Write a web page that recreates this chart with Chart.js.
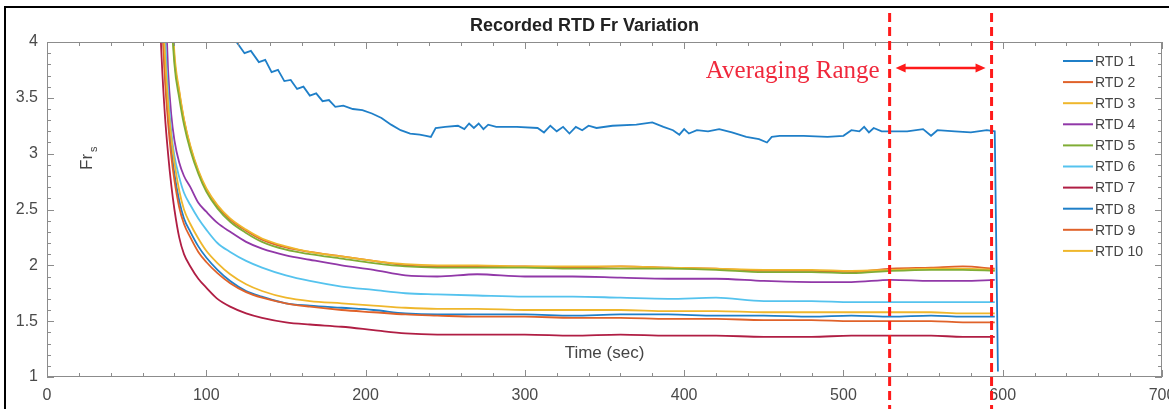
<!DOCTYPE html>
<html>
<head>
<meta charset="utf-8">
<script src="https://cdn.jsdelivr.net/npm/chart.js@4"></script>
<style>
  html, body { margin: 0; padding: 0; background: #fff; }
  #chart-rtd { display: block; }
</style>
</head>
<body>
<canvas id="chart-rtd" width="1169" height="409"></canvas>
<script>
// time base (sec) shared by RTD 2..10
const timeS = [68, 70, 72, 74, 76, 78, 80, 83, 86, 90, 95, 100, 107, 115, 125, 135, 150, 165, 185, 205, 225, 245, 270, 300, 330, 360, 390, 420, 450, 480, 505, 530, 555, 575, 595]

const rtd2 = [12, 10, 8.5, 7, 5.6, 4.4, 3.85, 3.55, 3.3, 3.06, 2.84, 2.68, 2.53, 2.41, 2.31, 2.23, 2.16, 2.12, 2.08, 2.04, 2.0, 1.99, 1.99, 1.99, 1.98, 1.99, 1.98, 1.97, 1.95, 1.95, 1.94, 1.97, 1.98, 1.99, 1.97]
const rtd3 = [12.5, 10.4, 8.8, 7.2, 5.8, 4.5, 3.9, 3.57, 3.31, 3.07, 2.85, 2.69, 2.54, 2.42, 2.32, 2.24, 2.17, 2.12, 2.08, 2.04, 2.01, 2.0, 2.0, 1.99, 1.99, 1.99, 1.98, 1.97, 1.96, 1.96, 1.95, 1.96, 1.97, 1.97, 1.96]
const rtd4 = [9, 7, 5.6, 4.5, 3.75, 3.35, 3.12, 2.92, 2.8, 2.7, 2.56, 2.48, 2.38, 2.3, 2.21, 2.15, 2.09, 2.05, 2.0, 1.96, 1.91, 1.9, 1.92, 1.9, 1.9, 1.89, 1.88, 1.88, 1.86, 1.85, 1.85, 1.87, 1.86, 1.86, 1.87]
const rtd5 = [11.5, 9.6, 8.1, 6.7, 5.4, 4.3, 3.8, 3.5, 3.26, 3.03, 2.82, 2.66, 2.51, 2.39, 2.29, 2.21, 2.14, 2.1, 2.06, 2.02, 1.99, 1.98, 1.98, 1.98, 1.97, 1.97, 1.97, 1.96, 1.94, 1.94, 1.93, 1.95, 1.96, 1.96, 1.95]
const rtd6 = [8, 6.3, 5.0, 4.1, 3.55, 3.2, 2.98, 2.79, 2.65, 2.54, 2.42, 2.32, 2.2, 2.12, 2.04, 1.98, 1.91, 1.86, 1.81, 1.78, 1.75, 1.74, 1.73, 1.72, 1.72, 1.71, 1.7, 1.71, 1.68, 1.68, 1.67, 1.67, 1.67, 1.67, 1.67]
const rtd7 = [6.0, 4.6, 3.85, 3.35, 3.0, 2.72, 2.5, 2.25, 2.1, 1.99, 1.88, 1.8, 1.7, 1.63, 1.57, 1.53, 1.49, 1.47, 1.45, 1.42, 1.39, 1.38, 1.38, 1.38, 1.37, 1.38, 1.37, 1.37, 1.36, 1.36, 1.37, 1.37, 1.37, 1.36, 1.36]
const rtd8 = [7, 5.5, 4.4, 3.75, 3.35, 3.05, 2.82, 2.58, 2.42, 2.3, 2.17, 2.07, 1.96, 1.86, 1.77, 1.72, 1.66, 1.64, 1.62, 1.6, 1.57, 1.56, 1.56, 1.56, 1.55, 1.56, 1.56, 1.55, 1.55, 1.54, 1.55, 1.54, 1.55, 1.54, 1.54]
const rtd9 = [6.8, 5.3, 4.3, 3.68, 3.28, 2.98, 2.76, 2.52, 2.37, 2.25, 2.12, 2.03, 1.93, 1.84, 1.76, 1.71, 1.66, 1.63, 1.6, 1.58, 1.56, 1.55, 1.54, 1.54, 1.53, 1.53, 1.52, 1.52, 1.51, 1.51, 1.5, 1.5, 1.5, 1.49, 1.49]
const rtd10 = [7.5, 5.8, 4.6, 3.9, 3.45, 3.15, 2.92, 2.67, 2.5, 2.37, 2.24, 2.13, 2.02, 1.92, 1.83, 1.77, 1.71, 1.68, 1.66, 1.64, 1.62, 1.61, 1.61, 1.6, 1.6, 1.6, 1.59, 1.59, 1.58, 1.58, 1.58, 1.58, 1.58, 1.57, 1.57]

// RTD 1 is logged on its own, noisier time base
const rtd1Time = [112, 119, 124, 128, 133, 137, 141, 145, 149, 153, 157, 161, 165, 169, 173, 177, 181, 186, 192, 198, 204, 210, 216, 222, 228, 234, 238, 241, 244, 250, 258, 262, 265, 268, 271, 274, 277, 282, 295, 308, 312, 316, 320, 324, 328, 332, 336, 340, 345, 355, 370, 380, 387, 393, 397, 400, 403, 408, 415, 422, 430, 439, 447, 452, 455, 460, 475, 490, 500, 505, 510, 513, 516, 519, 524, 540, 550, 555, 559, 570, 580, 590, 595, 597]
const rtd1 = [4.25, 4.0, 3.9, 3.92, 3.82, 3.84, 3.73, 3.75, 3.65, 3.66, 3.58, 3.6, 3.52, 3.54, 3.47, 3.48, 3.42, 3.43, 3.4, 3.39, 3.36, 3.32, 3.26, 3.21, 3.18, 3.17, 3.16, 3.15, 3.23, 3.24, 3.25, 3.22, 3.27, 3.23, 3.27, 3.22, 3.26, 3.24, 3.24, 3.23, 3.19, 3.25, 3.2, 3.24, 3.18, 3.24, 3.21, 3.25, 3.23, 3.25, 3.26, 3.28, 3.24, 3.21, 3.17, 3.22, 3.18, 3.21, 3.2, 3.22, 3.19, 3.15, 3.13, 3.1, 3.15, 3.16, 3.16, 3.15, 3.16, 3.21, 3.2, 3.24, 3.19, 3.23, 3.2, 3.2, 3.22, 3.16, 3.21, 3.2, 3.19, 3.21, 3.2, 1.05]

const names = ['RTD 1', 'RTD 2', 'RTD 3', 'RTD 4', 'RTD 5', 'RTD 6', 'RTD 7', 'RTD 8', 'RTD 9', 'RTD 10']
const colors = ['#1f7fc8', '#e0622a', '#efb72c', '#9138a8', '#80ad35', '#55c3ee', '#b01e44', '#1f7fc8', '#e0622a', '#efb72c']

// averaging window (sec)
const avgRange = [529, 593]

const yTicks = [1, 1.5, 2, 2.5, 3, 3.5, 4]
const xTicks = [0, 100, 200, 300, 400, 500, 600, 700]

const valuesAll = [rtd1, rtd2, rtd3, rtd4, rtd5, rtd6, rtd7, rtd8, rtd9, rtd10]

const datasets = valuesAll.map((vals, i) => {
	const t = i === 0 ? rtd1Time : timeS
	return {
		label: names[i],
		data: vals.map((v, k) => ({ x: t[k], y: v })),
		borderColor: colors[i],
		backgroundColor: colors[i],
		borderWidth: 1.8,
		pointRadius: 0,
		cubicInterpolationMode: i === 0 ? 'default' : 'monotone',
		tension: 0,
		order: 10 - i
	}
})

const axisGray = '#8c8c8c'
const labelFont = '"Liberation Sans", Arial, sans-serif'

// axis box, inward ticks, annotations and legend, drawn on top of the lines
const decorations = {
	id: 'decorations',
	afterDatasetsDraw(chart) {
		const ctx = chart.ctx
		const a = chart.chartArea
		const xs = chart.scales.x
		const ys = chart.scales.y

		ctx.save()
		// axis box
		ctx.strokeStyle = axisGray
		ctx.lineWidth = 1
		ctx.strokeRect(a.left + 0.5, a.top + 0.5, a.right - a.left - 1, a.bottom - a.top - 1)

		// inward ticks on all four sides
		ctx.beginPath()
		for (let v = 0; v <= 700; v += 20) {
			const px = Math.round(xs.getPixelForValue(v)) + 0.5
			const len = v % 100 === 0 ? 7 : 4
			ctx.moveTo(px, a.bottom); ctx.lineTo(px, a.bottom - len)
			ctx.moveTo(px, a.top); ctx.lineTo(px, a.top + len)
		}
		for (let k = 0; k <= 30; k++) {
			const v = 1 + k * 0.1
			const py = Math.round(ys.getPixelForValue(v)) + 0.5
			const len = k % 5 === 0 ? 7 : 4
			ctx.moveTo(a.left, py); ctx.lineTo(a.left + len, py)
			ctx.moveTo(a.right, py); ctx.lineTo(a.right - len, py)
		}
		ctx.stroke()

		// axis labels sit inside the axes
		ctx.fillStyle = '#444'
		ctx.font = '17px ' + labelFont
		ctx.textAlign = 'center'
		ctx.textBaseline = 'middle'
		ctx.fillText('Time (sec)', (a.left + a.right) / 2, a.bottom - 24)

		ctx.save()
		ctx.translate(a.left + 40, a.top + 118)
		ctx.rotate(-Math.PI / 2)
		ctx.font = '17px ' + labelFont
		ctx.textAlign = 'left'
		ctx.fillText('Fr', -10, 0)
		ctx.font = '11px ' + labelFont
		ctx.fillText('s', 8, 7)
		ctx.restore()

		// averaging window
		const x1 = xs.getPixelForValue(avgRange[0])
		const x2 = xs.getPixelForValue(avgRange[1])
		ctx.strokeStyle = '#ff1a1a'
		ctx.lineWidth = 3
		ctx.setLineDash([9, 5])
		ctx.beginPath()
		ctx.moveTo(x1, 13); ctx.lineTo(x1, chart.height)
		ctx.moveTo(x2, 13); ctx.lineTo(x2, chart.height)
		ctx.stroke()
		ctx.setLineDash([])

		const ay = 68
		ctx.lineWidth = 2.5
		ctx.beginPath()
		ctx.moveTo(x1 + 10, ay); ctx.lineTo(x2 - 10, ay)
		ctx.stroke()
		ctx.fillStyle = '#ff1a1a'
		ctx.beginPath()
		ctx.moveTo(x1 + 6, ay); ctx.lineTo(x1 + 16, ay - 4.5); ctx.lineTo(x1 + 16, ay + 4.5); ctx.closePath()
		ctx.moveTo(x2 - 6, ay); ctx.lineTo(x2 - 16, ay - 4.5); ctx.lineTo(x2 - 16, ay + 4.5); ctx.closePath()
		ctx.fill()

		ctx.fillStyle = '#f0283c'
		ctx.font = '25px "Liberation Serif", "Times New Roman", serif'
		ctx.textAlign = 'right'
		ctx.textBaseline = 'middle'
		ctx.fillText('Averaging Range', x1 - 10, 71)

		// legend
		ctx.font = '14px ' + labelFont
		ctx.textAlign = 'left'
		ctx.textBaseline = 'middle'
		chart.data.datasets.forEach((ds, i) => {
			const ly = 61 + i * 21.1
			ctx.strokeStyle = ds.borderColor
			ctx.lineWidth = 2
			ctx.beginPath()
			ctx.moveTo(1063, ly); ctx.lineTo(1093, ly)
			ctx.stroke()
			ctx.fillStyle = '#444'
			ctx.fillText(ds.label, 1095, ly + 1)
		})

		// outer frame
		ctx.strokeStyle = '#000'
		ctx.lineWidth = 2
		ctx.beginPath()
		ctx.moveTo(5, chart.height); ctx.lineTo(5, 7); ctx.lineTo(chart.width, 7)
		ctx.stroke()
		ctx.restore()
	},
	beforeDraw(chart) {
		const ctx = chart.ctx
		ctx.save()
		ctx.fillStyle = '#fff'
		ctx.fillRect(0, 0, chart.width, chart.height)
		ctx.restore()
	}
}

const chartRtd = new Chart(document.getElementById('chart-rtd'), {
	type: 'line',
	data: { datasets: datasets },
	options: {
		responsive: false,
		animation: false,
		events: [],
		layout: { padding: { left: 7, right: 7, top: 0, bottom: 0 } },
		scales: {
			x: {
				type: 'linear',
				min: 0,
				max: 700,
				afterBuildTicks: s => { s.ticks = xTicks.map(v => ({ value: v })) },
				afterFit: s => { s.height = 32; s.paddingLeft = 0; s.paddingRight = 0 },
				grid: { display: false, drawTicks: false },
				border: { display: false },
				ticks: {
					padding: 9,
					color: '#4a4a4a',
					font: { family: labelFont, size: 16 },
					maxRotation: 0,
					autoSkip: false,
					callback: v => String(v)
				}
			},
			y: {
				type: 'linear',
				min: 1,
				max: 4,
				afterBuildTicks: s => { s.ticks = yTicks.map(v => ({ value: v })) },
				afterFit: s => { s.width = 40; s.paddingTop = 0; s.paddingBottom = 0 },
				grid: { display: false, drawTicks: false },
				border: { display: false },
				ticks: {
					padding: 9,
					color: '#4a4a4a',
					font: { family: labelFont, size: 16 },
					callback: v => String(v)
				}
			}
		},
		plugins: {
			legend: { display: false },
			tooltip: { enabled: false },
			title: {
				display: true,
				text: 'Recorded RTD Fr Variation',
				color: '#222',
				font: { family: labelFont, size: 18, weight: 'bold', lineHeight: 1.2 },
				padding: { top: 15, bottom: 5.4 }
			}
		}
	},
	plugins: [decorations]
})
</script>
</body>
</html>
